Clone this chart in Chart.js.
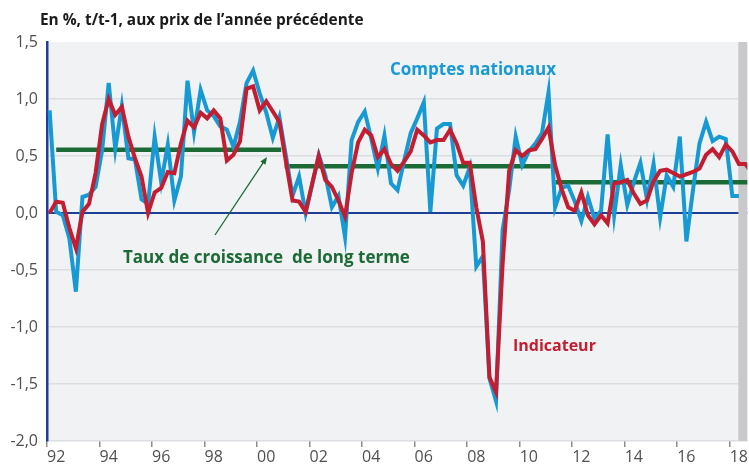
<!DOCTYPE html>
<html>
<head>
<meta charset="utf-8">
<script src="https://cdn.jsdelivr.net/npm/chart.js@4.4.1/dist/chart.umd.min.js"></script>
<style>
  html, body { margin: 0; padding: 0; background: #fff; }
</style>
</head>
<body>
<canvas id="pibChart" width="749" height="466"></canvas>
<script>
// quarterly growth, % q/q, from 1992Q1
const firstYear = 1992;
const comptesNationaux = [
  0.90, 0.01, -0.02, -0.22, -0.69, 0.14, 0.16, 0.23,   // 92-93
  0.55, 1.14, 0.56, 0.94, 0.48, 0.47, 0.12, 0.08,      // 94-95
  0.67, 0.27, 0.60, 0.11, 0.32, 1.16, 0.71, 1.08,      // 96-97
  0.90, 0.85, 0.76, 0.73, 0.58, 0.80, 1.14, 1.25,      // 98-99
  1.05, 0.88, 0.66, 0.84, 0.50, 0.15, 0.32, 0.00,      // 00-01
  0.25, 0.51, 0.33, 0.05, 0.15, -0.21, 0.64, 0.80,     // 02-03
  0.89, 0.65, 0.39, 0.68, 0.26, 0.20, 0.46, 0.70,      // 04-05
  0.83, 0.97, 0.01, 0.74, 0.78, 0.78, 0.33, 0.24,      // 06-07
  0.40, -0.47, -0.38, -1.45, -1.65, -0.15, 0.20, 0.67, // 08-09
  0.42, 0.54, 0.61, 0.70, 1.06, 0.05, 0.22, 0.24,      // 10-11
  0.10, -0.07, 0.14, -0.05, 0.02, 0.69, -0.02, 0.42,   // 12-13
  0.07, 0.27, 0.44, 0.12, 0.43, -0.04, 0.33, 0.23,     // 14-15
  0.67, -0.25, 0.20, 0.61, 0.80, 0.63, 0.67, 0.65,     // 16-17
  0.15, 0.15                                           // 18
];
const indicateur = [
  0.00, 0.10, 0.09, -0.13, -0.31, 0.01, 0.08, 0.35,
  0.78, 1.00, 0.86, 0.93, 0.67, 0.48, 0.32, 0.00,
  0.18, 0.22, 0.36, 0.35, 0.61, 0.81, 0.75, 0.88,
  0.83, 0.90, 0.83, 0.46, 0.51, 0.63, 1.09, 1.11,
  0.90, 0.98, 0.89, 0.80, 0.45, 0.11, 0.10, 0.01,
  0.26, 0.50, 0.29, 0.23, 0.11, -0.03, 0.35, 0.62,
  0.73, 0.68, 0.49, 0.56, 0.43, 0.37, 0.45, 0.54,
  0.73, 0.68, 0.62, 0.64, 0.64, 0.73, 0.61, 0.44,
  0.44, 0.05, -0.25, -1.44, -1.57, -0.45, 0.37, 0.55,
  0.50, 0.55, 0.56, 0.65, 0.75, 0.42, 0.21, 0.05,
  0.02, 0.18, -0.02, -0.10, -0.02, -0.09, 0.26, 0.27,
  0.29, 0.17, 0.08, 0.11, 0.28, 0.37, 0.38, 0.35,
  0.32, 0.34, 0.36, 0.39, 0.51, 0.56, 0.49, 0.60,
  0.54, 0.43, 0.43, 0.35
];
// long term growth rate by period
const ltStart = [1992.35, 2001.05, 2011.37];
const ltEnd = [2000.92, 2011.18, 2018.8];
const ltRate = [0.555, 0.41, 0.27];

const xTicks = [1992, 1994, 1996, 1998, 2000, 2002, 2004, 2006, 2008, 2010, 2012, 2014, 2016, 2018];
const yTicks = [-2, -1.5, -1, -0.5, 0, 0.5, 1, 1.5];
const forecastFrom = 2018.33;

const BLUE = '#1799d4';
const RED = '#c21d31';
const GREEN = '#1c6a36';
const AXIS = '#1d3f96';
const FONT = '"Open Sans", sans-serif';

const qx = i => firstYear + 0.1 + i * 0.25;
const toPoints = arr => arr.map((v, i) => ({ x: qx(i), y: v }));

const ltSets = ltRate.map((r, k) => ({
  label: 'lt' + k,
  data: [{ x: ltStart[k], y: r }, { x: ltEnd[k], y: r }],
  borderColor: GREEN,
  borderWidth: 4.5,
  pointRadius: 0
}));

const backdrop = {
  id: 'backdrop',
  beforeDraw(chart) {
    const { ctx, chartArea: a } = chart;
    ctx.save();
    ctx.fillStyle = '#f1f2f4';
    ctx.fillRect(a.left, a.top, a.right - a.left, a.bottom - a.top);
    ctx.restore();
  },
  beforeDatasetsDraw(chart) {
    const { ctx, chartArea: a, scales } = chart;
    const x0 = scales.x.getPixelForValue(forecastFrom);
    ctx.save();
    ctx.fillStyle = '#c9c9cc';
    ctx.fillRect(x0, a.top, a.right - x0, a.bottom - a.top);
    ctx.restore();
  }
};

const notes = {
  id: 'notes',
  afterDraw(chart) {
    const ctx = chart.ctx;
    ctx.save();
    ctx.textBaseline = 'alphabetic';
    ctx.fillStyle = '#1a1a1a';
    ctx.font = 'bold 15.4px ' + FONT;
    ctx.fillText('En %, t/t-1, aux prix de l’année précédente', 40, 25);

    ctx.fillStyle = BLUE;
    ctx.font = 'bold 17px ' + FONT;
    ctx.fillText('Comptes nationaux', 390, 75);

    ctx.fillStyle = GREEN;
    ctx.font = 'bold 17px ' + FONT;
    ctx.fillText('Taux de croissance  de long terme', 123, 263);

    ctx.fillStyle = RED;
    ctx.font = 'bold 16px ' + FONT;
    ctx.fillText('Indicateur', 513, 351);

    // arrow to the long-term line
    const x1 = 215, y1 = 235, x2 = 267, y2 = 157;
    const ang = Math.atan2(y2 - y1, x2 - x1);
    ctx.strokeStyle = GREEN;
    ctx.fillStyle = GREEN;
    ctx.lineWidth = 1.3;
    ctx.beginPath();
    ctx.moveTo(x1, y1);
    ctx.lineTo(x2 - 5 * Math.cos(ang), y2 - 5 * Math.sin(ang));
    ctx.stroke();
    ctx.beginPath();
    ctx.moveTo(x2, y2);
    ctx.lineTo(x2 - 8 * Math.cos(ang - 0.4), y2 - 8 * Math.sin(ang - 0.4));
    ctx.lineTo(x2 - 8 * Math.cos(ang + 0.4), y2 - 8 * Math.sin(ang + 0.4));
    ctx.closePath();
    ctx.fill();
    ctx.restore();
  }
};

new Chart(document.getElementById('pibChart'), {
  type: 'line',
  data: {
    datasets: [
      {
        label: 'Indicateur',
        data: toPoints(indicateur),
        borderColor: RED,
        borderWidth: 4,
        pointRadius: 0
      },
      {
        label: 'Comptes nationaux',
        data: toPoints(comptesNationaux),
        borderColor: BLUE,
        borderWidth: 4,
        pointRadius: 0
      },
      ...ltSets
    ]
  },
  options: {
    responsive: false,
    animation: false,
    devicePixelRatio: 1,
    layout: { padding: { top: 42, right: 0, bottom: 0, left: 0 } },
    plugins: {
      legend: { display: false },
      tooltip: { enabled: false }
    },
    scales: {
      x: {
        type: 'linear',
        min: 1992,
        max: 2018.67,
        afterBuildTicks: s => { s.ticks = xTicks.map(v => ({ value: v })); },
        afterFit: s => { s.height = 25; },
        ticks: {
          autoSkip: false,
          maxRotation: 0,
          align: 'start',
          padding: 1,
          color: '#505050',
          font: { family: FONT, size: 16 },
          callback: v => String(v).slice(2)
        },
        grid: { drawOnChartArea: false, drawTicks: true, tickLength: 6, color: '#8c8c8c', lineWidth: 1.5 },
        border: { display: false }
      },
      y: {
        min: -2,
        max: 1.5,
        afterBuildTicks: s => { s.ticks = yTicks.map(v => ({ value: v })); },
        afterFit: s => { s.width = 47; },
        ticks: {
          padding: 9,
          color: '#505050',
          font: { family: FONT, size: 16 },
          callback: v => v.toFixed(1).replace('.', ',')
        },
        grid: {
          drawTicks: false,
          color: c => c.tick.value === 0 ? AXIS : (c.tick.value === 1.5 ? 'rgba(0,0,0,0)' : '#dcdde1'),
          lineWidth: c => c.tick.value === 0 ? 2 : 1.5
        },
        border: { display: true, color: AXIS, width: 2.5 }
      }
    }
  },
  plugins: [backdrop, notes]
});
</script>
</body>
</html>
